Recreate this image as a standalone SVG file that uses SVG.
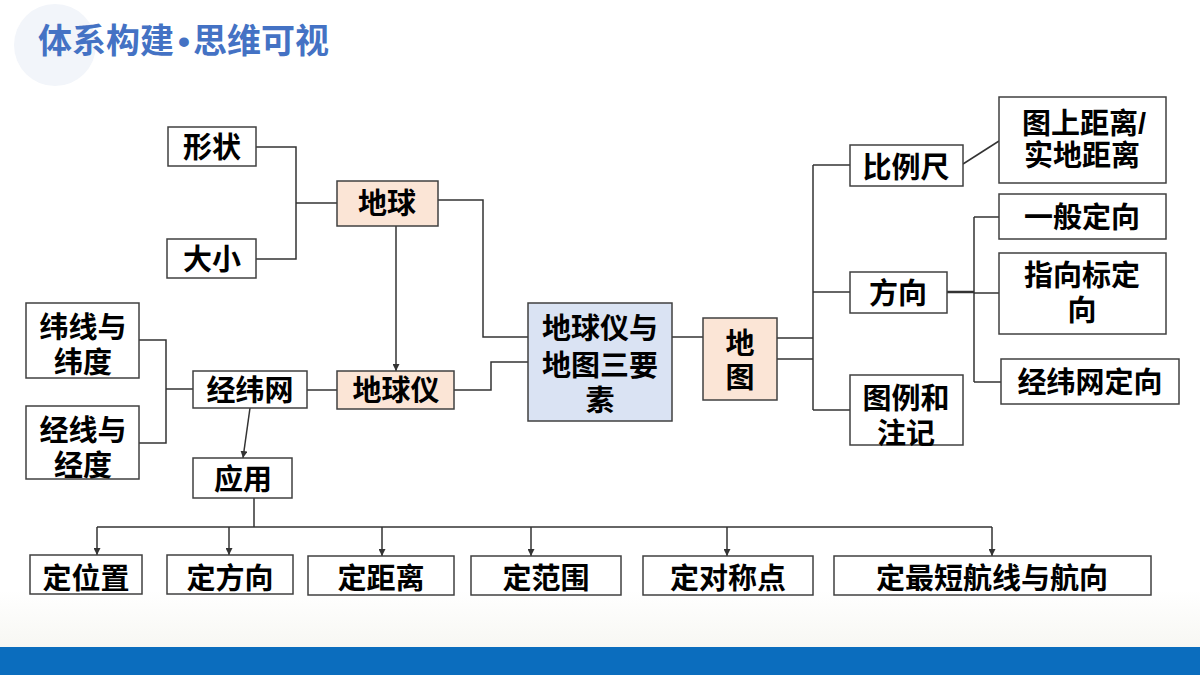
<svg xmlns="http://www.w3.org/2000/svg" width="1200" height="675" viewBox="0 0 1200 675">
<defs>
<style>
.box{fill:#ffffff;stroke:#404040;stroke-width:1.5}
.peach{fill:#fbe5d6;stroke:#404040;stroke-width:1.5}
.blue{fill:#dae3f3;stroke:#404040;stroke-width:1.5}
.t{font-family:"Liberation Sans","Noto Sans CJK SC","Noto Sans CJK JP",sans-serif;font-weight:bold;font-size:29px;fill:#000;text-anchor:middle}
.ln{fill:none;stroke:#333;stroke-width:1.5}
.title{font-family:"Noto Sans CJK SC","Noto Sans CJK JP",sans-serif;font-weight:bold;font-size:34px;fill:#4472c4}
</style>
<marker id="arr" viewBox="0 0 10 10" refX="10" refY="5" markerWidth="7" markerHeight="7" markerUnits="userSpaceOnUse" orient="auto">
<path d="M0,0 L10,5 L0,10 Z" fill="#333"/>
</marker>
<linearGradient id="bg" x1="0" y1="0" x2="0" y2="1">
<stop offset="0" stop-color="#ffffff"/>
<stop offset="1" stop-color="#f7f7f3"/>
</linearGradient>
</defs>
<rect x="0" y="0" width="1200" height="675" fill="#ffffff"/>
<rect x="0" y="590" width="1200" height="57" fill="url(#bg)"/>
<circle cx="55" cy="45" r="41" fill="#f2f5fa"/>
<rect x="0" y="647" width="1200" height="28" fill="#0b6dbe"/>
<text class="title" y="53"><tspan x="38">体系构建</tspan><tspan x="178" style="font-family:'Liberation Sans',sans-serif">•</tspan><tspan x="193">思维可视</tspan></text>

<g id="connectors">
<path class="ln" d="M256,147 H296 V259 H256"/>
<path class="ln" d="M296,203 H337"/>
<path class="ln" d="M139,340 H166 V443 H139"/>
<path class="ln" d="M166,389 H193"/>
<path class="ln" d="M307,390 H337"/>
<path class="ln" d="M396,226 V371" marker-end="url(#arr)"/>
<path class="ln" d="M250,408 L243,458" marker-end="url(#arr)"/>
<path class="ln" d="M438,200 H483 V337 H528"/>
<path class="ln" d="M454,390 H491 V362 H528"/>
<path class="ln" d="M672,337 H703"/>
<path class="ln" d="M777,338 H813"/>
<path class="ln" d="M777,359 H813"/>
<path class="ln" d="M813,165 V410"/>
<path class="ln" d="M813,165 H850"/>
<path class="ln" d="M813,292 H850"/>
<path class="ln" d="M813,410 H850"/>
<path class="ln" d="M963,164 L999,141"/>
<path class="ln" d="M947,292 H974" style="stroke-width:2.5"/>
<path class="ln" d="M974,217 V382"/>
<path class="ln" d="M974,217 H999"/>
<path class="ln" d="M974,293 H999"/>
<path class="ln" d="M974,382 H1001"/>
<path class="ln" d="M254,498 V527"/>
<path class="ln" d="M97,527 H992"/>
<path class="ln" d="M97,527 V555" marker-end="url(#arr)"/>
<path class="ln" d="M229,527 V555" marker-end="url(#arr)"/>
<path class="ln" d="M382,527 V556" marker-end="url(#arr)"/>
<path class="ln" d="M531,527 V556" marker-end="url(#arr)"/>
<path class="ln" d="M727,527 V556" marker-end="url(#arr)"/>
<path class="ln" d="M992,527 V556" marker-end="url(#arr)"/>
</g>

<g id="n-xingzhuang"><rect class="box" x="168" y="127" width="88" height="39"/><text class="t" x="212" y="158">形状</text></g>
<g id="n-daxiao"><rect class="box" x="167" y="239" width="89" height="39"/><text class="t" x="212" y="270">大小</text></g>
<g id="n-diqiu"><rect class="peach" x="337" y="181" width="101" height="45"/><text class="t" x="387" y="214">地球</text></g>
<g id="n-weixian"><rect class="box" x="26" y="303" width="113" height="75"/><text class="t"><tspan x="83" y="338">纬线与</tspan><tspan x="83" y="373">纬度</tspan></text></g>
<g id="n-jingxian"><rect class="box" x="26" y="406" width="113" height="73"/><text class="t"><tspan x="83" y="441">经线与</tspan><tspan x="83" y="476">经度</tspan></text></g>
<g id="n-jingweiwang"><rect class="box" x="193" y="371" width="114" height="37"/><text class="t" x="250" y="401">经纬网</text></g>
<g id="n-diqiuyi"><rect class="peach" x="337" y="371" width="117" height="38"/><text class="t" x="396" y="401">地球仪</text></g>
<g id="n-yingyong"><rect class="box" x="193" y="458" width="99" height="40"/><text class="t" x="243" y="490">应用</text></g>
<g id="n-center"><rect class="blue" x="528" y="303" width="144" height="118"/><text class="t"><tspan x="600" y="339">地球仪与</tspan><tspan x="600" y="376">地图三要</tspan><tspan x="600" y="411">素</tspan></text></g>
<g id="n-ditu"><rect class="peach" x="703" y="318" width="74" height="82"/><text class="t"><tspan x="740" y="354">地</tspan><tspan x="740" y="388">图</tspan></text></g>
<g id="n-bilichi"><rect class="box" x="850" y="145" width="113" height="41"/><text class="t" x="906" y="178">比例尺</text></g>
<g id="n-juli"><rect class="box" x="999" y="97" width="167" height="86"/><text class="t"><tspan x="1084" y="134">图上距离/</tspan><tspan x="1082" y="166">实地距离</tspan></text></g>
<g id="n-fangxiang"><rect class="box" x="850" y="272" width="97" height="41"/><text class="t" x="898" y="304">方向</text></g>
<g id="n-yiban"><rect class="box" x="999" y="194" width="167" height="45"/><text class="t" x="1082" y="228">一般定向</text></g>
<g id="n-zhixiangbiao"><rect class="box" x="999" y="253" width="167" height="81"/><text class="t"><tspan x="1082" y="286">指向标定</tspan><tspan x="1082" y="321">向</tspan></text></g>
<g id="n-jwwdx"><rect class="box" x="1001" y="359" width="178" height="45"/><text class="t" x="1090" y="393">经纬网定向</text></g>
<g id="n-tuli"><rect class="box" x="850" y="375" width="113" height="70"/><text class="t"><tspan x="906" y="409">图例和</tspan><tspan x="906" y="444">注记</tspan></text></g>
<g id="n-dingweizhi"><rect class="box" x="30" y="555" width="112" height="39"/><text class="t" x="86" y="589">定位置</text></g>
<g id="n-dingfangxiang"><rect class="box" x="167" y="555" width="126" height="39"/><text class="t" x="230" y="589">定方向</text></g>
<g id="n-dingjuli"><rect class="box" x="308" y="556" width="146" height="39"/><text class="t" x="381" y="589">定距离</text></g>
<g id="n-dingfanwei"><rect class="box" x="471" y="556" width="150" height="39"/><text class="t" x="546" y="589">定范围</text></g>
<g id="n-dingduichen"><rect class="box" x="643" y="556" width="170" height="39"/><text class="t" x="728" y="589">定对称点</text></g>
<g id="n-dingzuiduan"><rect class="box" x="834" y="556" width="317" height="39"/><text class="t" x="992" y="589">定最短航线与航向</text></g>
</svg>
